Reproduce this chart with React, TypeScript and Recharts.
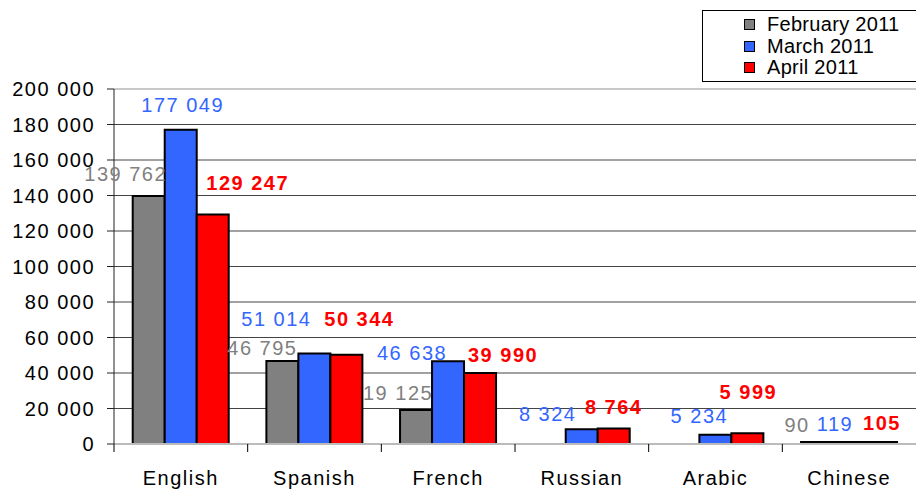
import React from "react";
import {
  BarChart,
  Bar,
  XAxis,
  YAxis,
  CartesianGrid,
  ReferenceLine,
  LabelList,
} from "recharts";

const languages = ["English", "Spanish", "French", "Russian", "Arabic", "Chinese"];
const feb2011 = [139762, 46795, 19125, null, null, 90];
const mar2011 = [177049, 51014, 46638, 8324, 5234, 119];
const apr2011 = [129247, 50344, 39990, 8764, 5999, 105];
const yTicks = [0, 20000, 40000, 60000, 80000, 100000, 120000, 140000, 160000, 180000, 200000];

const W = 916;
const H = 489;
const LEFT = 114;
const TOP = 89;
const X_H = 45;
const PLOT_BOTTOM = H - X_H;
const BAND = (W - LEFT) / languages.length;
const FONT = '"Liberation Sans", Arial, sans-serif';

const SERIES = [
  { key: "feb", name: "February 2011", fill: "#808080", bold: false },
  { key: "mar", name: "March 2011", fill: "#3366ff", bold: false },
  { key: "apr", name: "April 2011", fill: "#ff0000", bold: true },
];

// label offsets from the bar's top centre, Excel labels were dragged by hand
const labelNudge: Record<string, ([number, number] | null)[]> = {
  feb: [[-23, -22], [-20, -13], [-18, -17], null, null, [-20, -17]],
  mar: [[2, -25], [-38, -34], [-36, -8], [-34, -15], [-16, -19], [-14, -18]],
  apr: [[35, -32], [13, -36], [23, -18], [0, -21], [1, -41], [1, -19]],
};

const data = languages.map((lang, i) => ({
  lang,
  feb: feb2011[i],
  mar: mar2011[i],
  apr: apr2011[i],
}));

const fmt = (n: number) => String(n).replace(/\B(?=(\d{3})+(?!\d))/g, " ");

const makeLabel = (key: string, color: string, bold: boolean) => (props: any) => {
  const { x, y, width, value } = props;
  if (value == null) return null;
  const cx = Number(x) + Number(width) / 2;
  // null points get dropped from the label list, so find the category from x
  const cat = Math.floor((cx - LEFT) / BAND);
  const [dx, dy] = labelNudge[key][cat] ?? [0, -15];
  return (
    <text
      x={cx + dx}
      y={Number(y) + dy}
      textAnchor="middle"
      dominantBaseline="central"
      fill={color}
      fontSize={20}
      fontWeight={bold ? 700 : 400}
      fontFamily={FONT}
      letterSpacing={1.5}
    >
      {fmt(value)}
    </text>
  );
};

function LangTick({ x, payload }: any) {
  return (
    <g>
      <line
        x1={x - BAND / 2}
        x2={x - BAND / 2}
        y1={PLOT_BOTTOM}
        y2={PLOT_BOTTOM + 8}
        stroke="#000"
      />
      <text
        x={x}
        y={PLOT_BOTTOM + 41}
        textAnchor="middle"
        fill="#000"
        fontSize={20}
        fontFamily={FONT}
        letterSpacing={1.5}
      >
        {payload.value}
      </text>
    </g>
  );
}

function LegendBox() {
  return (
    <div
      style={{
        position: "absolute",
        top: 10,
        left: 702,
        width: 222,
        height: 72,
        border: "1px solid #000",
        background: "#fff",
        boxSizing: "border-box",
        paddingTop: 3,
        paddingLeft: 41,
        fontFamily: FONT,
        fontSize: 20,
        letterSpacing: 0.3,
        lineHeight: "21.5px",
        color: "#000",
      }}
    >
      {SERIES.map((s) => (
        <div key={s.key} style={{ display: "flex", alignItems: "center", height: 21.5 }}>
          <span
            style={{
              width: 9,
              height: 9,
              background: s.fill,
              border: "1px solid #000",
              marginRight: 12,
              flexShrink: 0,
            }}
          />
          <span style={{ whiteSpace: "nowrap" }}>{s.name}</span>
        </div>
      ))}
    </div>
  );
}

export default function App() {
  return (
    <div style={{ width: W, height: H, overflow: "hidden", position: "relative", background: "#fff" }}>
      <style>{"body{margin:0}"}</style>
      <BarChart
        width={W}
        height={H}
        data={data}
        margin={{ top: TOP, right: 0, bottom: 0, left: 0 }}
        barCategoryGap="14%"
        barGap={0}
      >
        <CartesianGrid vertical={false} stroke="#444" />
        <ReferenceLine y={200000} stroke="#c8c8c8" strokeWidth={2} />
        <XAxis
          dataKey="lang"
          height={X_H}
          axisLine={{ stroke: "#bbb", strokeWidth: 2 }}
          tickLine={false}
          tick={<LangTick />}
          interval={0}
        />
        <YAxis
          width={LEFT}
          domain={[0, 200000]}
          ticks={yTicks}
          tickFormatter={fmt}
          axisLine={{ stroke: "#222" }}
          tickLine={{ stroke: "#222" }}
          tickSize={7}
          tickMargin={12}
          tick={{ fill: "#000", fontSize: 20, fontFamily: FONT, letterSpacing: 1.5 }}
        />
        {SERIES.map((s) => (
          <Bar
            key={s.key}
            dataKey={s.key}
            name={s.name}
            fill={s.fill}
            stroke="#000"
            strokeWidth={2}
            minPointSize={2}
            isAnimationActive={false}
          >
            <LabelList dataKey={s.key} content={makeLabel(s.key, s.fill, s.bold)} />
          </Bar>
        ))}
      </BarChart>
      <LegendBox />
    </div>
  );
}
